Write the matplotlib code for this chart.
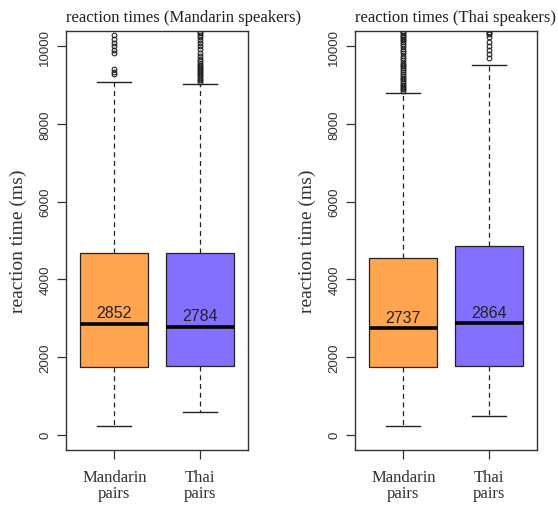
import matplotlib
matplotlib.use("Agg")
import matplotlib.pyplot as plt

groups = ["Mandarin\npairs", "Thai\npairs"]
titles = ["reaction times (Mandarin speakers)", "reaction times (Thai speakers)"]
box_colors = ["#FFA54F", "#8470FF"]

# Mandarin speakers (left panel): Mandarin pairs, Thai pairs
m_med = [2852, 2784]
m_q1 = [1745, 1760]
m_q3 = [4685, 4685]
m_lo = [215, 585]
m_hi = [9090, 9040]
m_out_mand = [9280, 9340, 9410, 9840, 9905, 10010, 10095, 10200, 10285]
m_out_thai = [9090, 9130, 9170, 9210, 9250, 9290, 9330, 9370, 9410, 9450,
              9490, 9530, 9570, 9620, 9680, 9750, 9830, 9920, 10000, 10080,
              10160, 10230, 10290, 10330, 10370]

# Thai speakers (right panel)
t_med = [2737, 2864]
t_q1 = [1745, 1760]
t_q3 = [4555, 4870]
t_lo = [232, 474]
t_hi = [8800, 9520]
t_out_mand = [8850, 8890, 8930, 8970, 9010, 9060, 9100, 9150, 9190, 9240,
              9280, 9330, 9380, 9430, 9480, 9530, 9580, 9640, 9700, 9760,
              9820, 9880, 9940, 10000, 10060, 10120, 10160, 10200, 10240,
              10270, 10300, 10330, 10360, 10390]
t_out_thai = [9690, 9800, 9910, 10015, 10120, 10230, 10320, 10350, 10380]

yticks = [0, 2000, 4000, 6000, 8000, 10000]

serif = "Liberation Serif"
sans = "Liberation Sans"

fig = plt.figure(figsize=(5.58, 5.06), dpi=100)
W, H = 558, 506
panels = [
    (66, m_med, m_q1, m_q3, m_lo, m_hi, [m_out_mand, m_out_thai]),
    (355, t_med, t_q1, t_q3, t_lo, t_hi, [t_out_mand, t_out_thai]),
]

for k, (x0, med, q1, q3, lo, hi, outs) in enumerate(panels):
    ax = fig.add_axes([x0 / W, 55 / H, 182 / W, 419 / H])
    stats = []
    for i in range(2):
        stats.append(dict(med=med[i], q1=q1[i], q3=q3[i],
                          whislo=lo[i], whishi=hi[i], fliers=outs[i]))
    bp = ax.bxp(stats, positions=[1, 2], widths=0.8, patch_artist=True,
                boxprops=dict(edgecolor="#222222", linewidth=0.9),
                whiskerprops=dict(color="#222222", linewidth=0.9,
                                  linestyle=(0, (4, 3))),
                capprops=dict(color="#222222", linewidth=1.0),
                medianprops=dict(color="black", linewidth=2.6),
                flierprops=dict(marker="o", markersize=3.4,
                                markerfacecolor="none",
                                markeredgecolor="#222222",
                                markeredgewidth=0.8))
    for patch, c in zip(bp["boxes"], box_colors):
        patch.set_facecolor(c)
    # R-style staples: half the box width
    for cap in bp["caps"]:
        xs = cap.get_xdata()
        mid = (xs[0] + xs[1]) / 2
        cap.set_xdata([mid - 0.2, mid + 0.2])
    for i in range(2):
        ax.text(i + 1, med[i] + 90, str(med[i]), ha="center", va="bottom",
                fontsize=11.5, family=sans, color="#222222")

    ax.set_xlim(0.435, 2.565)
    ax.set_ylim(-394, 10394)
    ax.set_yticks(yticks)
    ax.set_yticklabels([str(v) for v in yticks], rotation=90, va="center",
                       family=sans, fontsize=9.5, color="#333333")
    ax.set_xticks([1, 2])
    ax.set_xticklabels(groups, family=serif, fontsize=12, linespacing=1.0,
                       color="#333333")
    ax.tick_params(axis="both", length=6.5, width=0.9, color="#333333")
    ax.tick_params(axis="y", pad=4)
    ax.tick_params(axis="x", pad=7)
    for s in ax.spines.values():
        s.set_linewidth(1.0)
        s.set_color("#333333")
    ax.set_ylabel("reaction time (ms)", family=serif, fontsize=14,
                  color="#333333", labelpad=9)
    ax.set_title(titles[k], loc="left", family=serif, fontsize=12,
                 color="#222222", pad=7)

fig.savefig("out.png", dpi=100)
